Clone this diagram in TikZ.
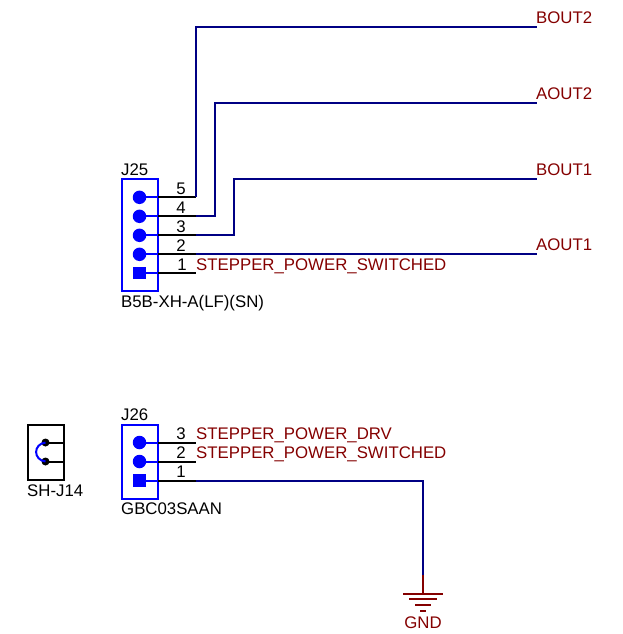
\documentclass[tikz,border=0pt]{standalone}
\usepackage{fontspec}
\setmainfont{Liberation Sans}
\definecolor{netblue}{RGB}{0,0,132}
\definecolor{netred}{RGB}{132,0,0}
\definecolor{symblue}{RGB}{0,0,255}
\tikzset{
  x=1pt,y=-1pt,
  wirenet/.style={draw=netblue,line width=2pt},
  wirepin/.style={draw=black,line width=2pt},
  wiresym/.style={draw=symblue,line width=2pt},
  gndline/.style={draw=netred,line width=2pt},
  connbox/.style={draw=symblue,line width=2pt,rectangle,minimum width=36.4pt,inner sep=0pt,anchor=north west},
  shbox/.style={draw=black,line width=2pt,rectangle,minimum width=36.4pt,minimum height=55.2pt,inner sep=0pt,anchor=north west},
  pad/.style={fill=symblue,circle,minimum size=13.5pt,inner sep=0pt},
  padsq/.style={fill=symblue,rectangle,minimum size=12.5pt,inner sep=0pt},
  shdot/.style={fill=black,circle,minimum size=8pt,inner sep=0pt},
  txt/.style={font=\fontsize{16.8}{18}\selectfont,inner sep=0pt,anchor=base west,text=black},
  netlabel/.style={font=\fontsize{16.8}{18}\selectfont,inner sep=0pt,anchor=base west,text=netred},
  pinnum/.style={font=\fontsize{16.8}{18}\selectfont,inner sep=0pt,anchor=base,text=black},
}
\begin{document}
\begin{tikzpicture}
\useasboundingbox (0,0) rectangle (622,634);
% J25
\node[connbox,minimum height=111.6pt] (j25) at (120.5,178.2) {};
\node[txt] (j25ref) at (121,175) {J25};
\node[txt] (j25val) at (121,307) {B5B-XH-A(LF)(SN)};
\node[pad] (p5) at (139.5,197.3) {};
\node[pad] (p4) at (139.5,216.3) {};
\node[pad] (p3) at (139.5,235.3) {};
\node[pad] (p2) at (139.5,254.3) {};
\node[padsq] (p1) at (139.5,273) {};
\coordinate (e5) at (158,197.3);
\coordinate (e4) at (158,216.3);
\coordinate (e3) at (158,235.3);
\coordinate (e2) at (158,254.3);
\coordinate (e1) at (158,273);
\coordinate (s5) at (196,197.3);
\coordinate (s4) at (196,216.3);
\coordinate (s3) at (196,235.3);
\coordinate (s2) at (196,254.3);
\coordinate (s1) at (196,273);
\coordinate (c4) at (215,216.3);
\coordinate (c3) at (234,235.3);
\coordinate (n5) at (537,27.5);
\coordinate (n4) at (537,103);
\coordinate (n3) at (537,179);
\coordinate (n2) at (537,254.3);
\foreach \i in {1,...,5} {
  \draw[wiresym] (p\i.center) -- (e\i);
  \draw[wirepin] (e\i) -- (s\i);
}
\draw[wirenet] (s5) -- (s5 |- n5) -- (n5);
\draw[wirenet] (s4) -- (c4) -- (c4 |- n4) -- (n4);
\draw[wirenet] (s3) -- (c3) -- (c3 |- n3) -- (n3);
\draw[wirenet] (s2) -- (n2);
\node[pinnum] (n5t) at (181,194) {5};
\node[pinnum] (n4t) at (181,213) {4};
\node[pinnum] (n3t) at (181,232) {3};
\node[pinnum] (n2t) at (181,251) {2};
\node[pinnum] (n1t) at (182,270) {1};
\node[netlabel] (bout2) at (536,23.6) {BOUT2};
\node[netlabel] (aout2) at (536,99.6) {AOUT2};
\node[netlabel] (bout1) at (536,175) {BOUT1};
\node[netlabel] (aout1) at (536,250.4) {AOUT1};
\node[netlabel] (sps1) at (196,270) {STEPPER\_POWER\_SWITCHED};
% J26
\node[connbox,minimum height=74pt] (j26) at (120.5,423.5) {};
\node[txt] (j26ref) at (121,420.5) {J26};
\node[txt] (j26val) at (121,514) {GBC03SAAN};
\node[pad] (q3) at (139.5,442.5) {};
\node[pad] (q2) at (139.5,461.5) {};
\node[padsq] (q1) at (139.5,480.5) {};
\coordinate (f3) at (158,442.5);
\coordinate (f2) at (158,461.5);
\coordinate (f1) at (158,480.5);
\coordinate (t3) at (196,442.5);
\coordinate (t2) at (196,461.5);
\coordinate (t1) at (196,480.5);
\foreach \i in {1,2,3} {
  \draw[wiresym] (q\i.center) -- (f\i);
  \draw[wirepin] (f\i) -- (t\i);
}
\node[pinnum] (m3t) at (181,439) {3};
\node[pinnum] (m2t) at (181,458) {2};
\node[pinnum] (m1t) at (181,477) {1};
\node[netlabel] (spd) at (196,439) {STEPPER\_POWER\_DRV};
\node[netlabel] (sps2) at (196,458) {STEPPER\_POWER\_SWITCHED};
% GND
\coordinate (gc) at (423,480.5);
\coordinate (gm) at (423,575);
\coordinate (gt) at (423,593.5);
\draw[wirenet] (t1) -- (gc) -- (gm);
\draw[gndline] (gm) -- (gt);
\draw[gndline] ([xshift=-20pt]gt) -- ([xshift=20pt]gt);
\draw[gndline] ([xshift=-14pt,yshift=-5.7pt]gt) -- ([xshift=14pt,yshift=-5.7pt]gt);
\draw[gndline] ([xshift=-8pt,yshift=-11.4pt]gt) -- ([xshift=8pt,yshift=-11.4pt]gt);
\draw[gndline] ([xshift=-3pt,yshift=-17pt]gt) -- ([xshift=3pt,yshift=-17pt]gt);
\node[netlabel,anchor=base] (gnd) at (423,628) {GND};
% SH-J14
\node[shbox] (sh) at (26.5,423.5) {};
\node[txt] (shval) at (27,496) {SH-J14};
\node[shdot] (d1) at (45.5,442.5) {};
\node[shdot] (d2) at (45.5,461.5) {};
\coordinate (g1) at (64,442.5);
\coordinate (g2) at (64,461.5);
\draw[wirepin] (d1.center) -- (g1);
\draw[wirepin] (d2.center) -- (g2);
\draw[wiresym] (d1.center) .. controls (33,444) and (33,460) .. (d2.center);
\end{tikzpicture}
\end{document}
